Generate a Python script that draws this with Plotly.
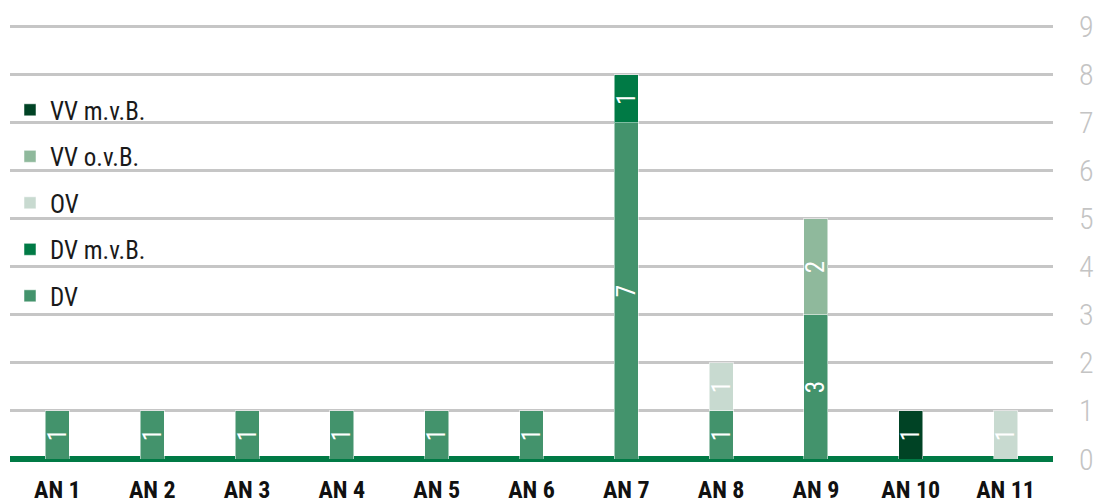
import plotly.graph_objects as go

# Categories along the x axis
categories = ["AN 1", "AN 2", "AN 3", "AN 4", "AN 5", "AN 6",
              "AN 7", "AN 8", "AN 9", "AN 10", "AN 11"]

# Stacked counts per category (None = no segment)
dv        = [1, 1, 1, 1, 1, 1, 7, 1, 3, None, None]
dv_mvb    = [None, None, None, None, None, None, 1, None, None, None, None]
ov        = [None, None, None, None, None, None, None, 1, None, None, 1]
vv_ovb    = [None, None, None, None, None, None, None, None, 2, None, None]
vv_mvb    = [None, None, None, None, None, None, None, None, None, 1, None]

y_ticks = list(range(0, 10))

# name, values, colour, legend rank (top of legend = highest stack segment)
series = [
    ("DV", dv, "#43936c", 5),
    ("DV m.v.B.", dv_mvb, "#007a45", 4),
    ("OV", ov, "#c8dad0", 3),
    ("VV o.v.B.", vv_ovb, "#8fb99c", 2),
    ("VV m.v.B.", vv_mvb, "#004325", 1),
]

FONT = "Roboto Condensed, Roboto, sans-serif"

fig = go.Figure()
for name, vals, color, rank in series:
    fig.add_trace(go.Bar(
        x=categories,
        y=vals,
        name=name,
        legendgroup=name,
        legendrank=rank,
        marker=dict(color=color, line=dict(color="rgba(255,255,255,0.5)", width=1)),
        text=[str(v) if v else "" for v in vals],
        textposition="inside",
        insidetextanchor="middle",
        textangle=-90,
        constraintext="none",
        textfont=dict(family=FONT, size=25, color="white"),
        hoverinfo="x+y+name",
    ))

fig.update_layout(
    barmode="stack",
    bargap=0.747,
    width=1103,
    height=503,
    margin=dict(l=10, r=50, t=25, b=44),
    paper_bgcolor="white",
    plot_bgcolor="white",
    font=dict(family=FONT, color="#222222"),
    showlegend=True,
    legend=dict(
        x=0, y=0.857, xanchor="left", yanchor="top",
        traceorder="grouped",
        tracegroupgap=11,
        font=dict(family=FONT, size=25, color="#1a1a1a"),
        bgcolor="rgba(0,0,0,0)",
        itemwidth=30,
    ),
    xaxis=dict(
        type="category",
        automargin=False,
        showgrid=False,
        showline=False,
        ticks="",
        ticklabelstandoff=14,
        tickfont=dict(family=FONT, size=24, color="#111111", weight="bold"),
    ),
    yaxis=dict(
        side="right",
        automargin=False,
        range=[0, 9.04],
        tickvals=y_ticks,
        showgrid=True,
        gridcolor="#c6c6c6",
        gridwidth=3,
        zeroline=True,
        zerolinecolor="#007a45",
        zerolinewidth=6,
        showline=False,
        ticks="",
        ticklabelstandoff=25,
        tickfont=dict(family=FONT, size=30, color="#c4c4c4", weight=300),
    ),
)

fig.write_html("out.html")
